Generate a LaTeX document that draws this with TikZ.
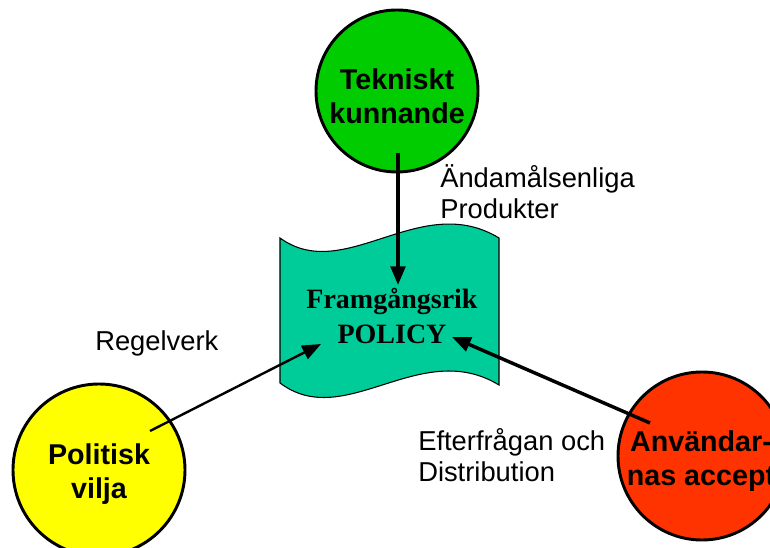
\documentclass[tikz,border=0pt]{standalone}
\usepackage{fontspec}
\setmainfont{Liberation Serif}
\setsansfont{Liberation Sans}
\usetikzlibrary{arrows.meta}
\definecolor{tgreen}{RGB}{0,204,0}
\definecolor{tyellow}{RGB}{255,255,0}
\definecolor{tred}{RGB}{255,51,0}
\definecolor{tteal}{RGB}{0,204,153}
\begin{document}
\begin{tikzpicture}[x=0.75pt,y=-0.75pt,
  ball/.style={circle,draw=black,line width=2.2pt,inner sep=0pt},
  balltxt/.style={align=center,inner sep=0pt,
    font=\sffamily\bfseries\fontsize{21.5}{25.5}\selectfont},
  lbl/.style={anchor=west,align=left,inner sep=0pt,font=\sffamily\fontsize{20.5}{23.5}\selectfont},
  arr/.style={-{Triangle[length=14pt,width=11pt]},line width=2.6pt},
  arrthin/.style={-{Triangle[length=14pt,width=11pt]},line width=1.8pt}]
\useasboundingbox (0,0) rectangle (770,548);
% circles
\node[ball,fill=tgreen,minimum size=121.5pt] (tek) at (397,91) {};
\node[ball,fill=tyellow,minimum size=129pt] (pol) at (99,470) {};
\node[ball,fill=tred,minimum size=126pt] (anv) at (702,456) {};
\node[balltxt] (tekT) at (397,96) {Tekniskt\\kunnande};
\node[balltxt] (polT) at (99,474) {Politisk\\vilja};
\node[balltxt] (anvT) at (701,461) {Användar-\\nas accept};
% policy wave
\draw[fill=tteal,line width=0.8pt] (280,238) .. controls (345,285) and (420,190) .. (499,238)
  -- (499,385) .. controls (420,337) and (345,432) .. (280,383) -- cycle;
\node[align=center,font=\rmfamily\bfseries\fontsize{21}{25.5}\selectfont] (policy) at (392,316) {Framgångsrik\\POLICY};
% labels
\node[lbl] (l1) at (440,192) {Ändamålsenliga\\Produkter};
\node[lbl] (l2) at (95,343) {Regelverk};
\node[lbl] (l3) at (418,455) {Efterfrågan och\\Distribution};
% arrow coordinates
\coordinate (tekS) at (398,153);
\coordinate (tekE) at (398,285);
\coordinate (polS) at (150,431);
\coordinate (polE) at (321,344);
\coordinate (anvS) at (650,423);
\coordinate (anvE) at (452,337);
\draw[arr] (tekS) -- (tekE);
\draw[arrthin] (polS) -- (polE);
\draw[arr] (anvS) -- (anvE);
\end{tikzpicture}
\end{document}
